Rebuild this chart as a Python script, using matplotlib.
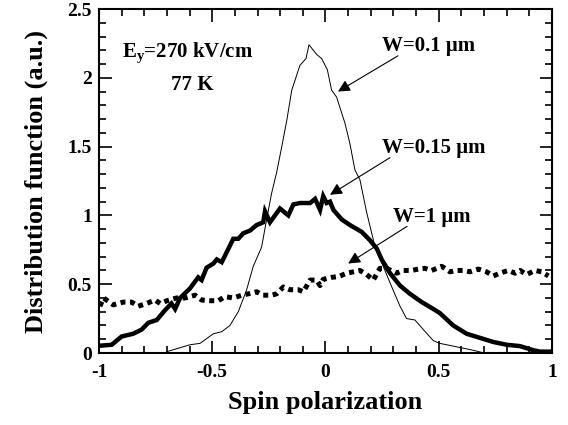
import matplotlib
matplotlib.use('Agg')
import matplotlib.pyplot as plt
from matplotlib.ticker import MultipleLocator

# W = 0.1 um (thin line)
x_thin = [-0.70, -0.598, -0.554, -0.495, -0.458, -0.422, -0.385, -0.348, -0.319, -0.282,
          -0.26, -0.238, -0.216, -0.193, -0.171, -0.149, -0.113, -0.086, -0.073, -0.039,
          -0.017, 0.008, 0.027, 0.049, 0.086, 0.108, 0.130, 0.152, 0.182, 0.219,
          0.255, 0.285, 0.329, 0.358, 0.395, 0.432, 0.476, 0.505, 0.564, 0.652, 0.70]
y_thin = [0.01, 0.06, 0.07, 0.14, 0.155, 0.20, 0.30, 0.46, 0.63, 0.77,
          0.97, 1.16, 1.31, 1.50, 1.69, 1.91, 2.09, 2.14, 2.24, 2.17,
          2.14, 2.06, 1.91, 1.86, 1.67, 1.52, 1.33, 1.26, 1.02, 0.77,
          0.63, 0.51, 0.34, 0.25, 0.24, 0.17, 0.09, 0.07, 0.05, 0.02, 0.0]

# W = 0.15 um (thick line)
x_thick = [-0.996, -0.944, -0.90, -0.849, -0.812, -0.782, -0.745, -0.709, -0.68, -0.664,
           -0.642, -0.598, -0.562, -0.547, -0.525, -0.495, -0.480, -0.458, -0.407, -0.385,
           -0.363, -0.333, -0.304, -0.275, -0.267, -0.245, -0.201, -0.164, -0.142, -0.113,
           -0.068, -0.046, -0.024, -0.010, 0.005, 0.020, 0.035, 0.072, 0.108, 0.16,
           0.196, 0.226, 0.248, 0.285, 0.329, 0.373, 0.425, 0.476, 0.505, 0.564,
           0.623, 0.682, 0.741, 0.80, 0.859, 0.918, 0.947, 0.99]
y_thick = [0.053, 0.06, 0.12, 0.14, 0.17, 0.22, 0.24, 0.31, 0.36, 0.32,
           0.40, 0.47, 0.55, 0.53, 0.62, 0.65, 0.68, 0.66, 0.83, 0.83,
           0.87, 0.89, 0.93, 0.95, 1.03, 0.95, 1.05, 1.00, 1.08, 1.09,
           1.09, 1.12, 1.04, 1.14, 1.09, 1.10, 1.04, 0.97, 0.93, 0.88,
           0.82, 0.76, 0.68, 0.58, 0.49, 0.43, 0.37, 0.32, 0.29, 0.20,
           0.14, 0.11, 0.08, 0.06, 0.05, 0.02, 0.01, 0.01]

# W = 1 um (dotted line)
x_dot = [-0.996, -0.98, -0.937, -0.893, -0.856, -0.827, -0.79, -0.753, -0.73, -0.70,
         -0.657, -0.62, -0.576, -0.547, -0.51, -0.473, -0.444, -0.407, -0.37, -0.341,
         -0.304, -0.275, -0.238, -0.216, -0.186, -0.157, -0.12, -0.098, -0.068, -0.039,
         -0.024, -0.01, 0.027, 0.057, 0.094, 0.123, 0.152, 0.182, 0.211, 0.24,
         0.27, 0.314, 0.343, 0.38, 0.41, 0.439, 0.469, 0.513, 0.55, 0.579,
         0.608, 0.638, 0.675, 0.711, 0.741, 0.77, 0.807, 0.837, 0.859, 0.888,
         0.925, 0.955, 0.984]
y_dot = [0.34, 0.40, 0.35, 0.37, 0.37, 0.34, 0.36, 0.385, 0.36, 0.38,
         0.40, 0.40, 0.42, 0.385, 0.38, 0.38, 0.41, 0.40, 0.42, 0.43,
         0.445, 0.42, 0.42, 0.43, 0.48, 0.46, 0.46, 0.445, 0.53, 0.53,
         0.49, 0.535, 0.55, 0.555, 0.58, 0.59, 0.60, 0.57, 0.53, 0.615,
         0.615, 0.58, 0.60, 0.60, 0.61, 0.615, 0.60, 0.63, 0.59, 0.60,
         0.60, 0.59, 0.61, 0.59, 0.56, 0.58, 0.60, 0.58, 0.60, 0.57,
         0.60, 0.59, 0.56]

plt.rcParams['font.family'] = ['Liberation Serif', 'DejaVu Serif']
plt.rcParams['font.weight'] = 'bold'
plt.rcParams['mathtext.fontset'] = 'custom'
plt.rcParams['mathtext.bf'] = 'Liberation Serif:bold'
plt.rcParams['mathtext.rm'] = 'Liberation Serif:bold'
plt.rcParams['mathtext.default'] = 'bf'

fig = plt.figure(figsize=(5.68, 4.25), dpi=100)
ax = fig.add_axes([0.1743, 0.1694, 0.7975, 0.8094])

ax.plot(x_thin, y_thin, color='black', lw=0.7)
ax.plot(x_thick, y_thick, color='black', lw=3.2, solid_joinstyle='miter')
ax.plot(x_dot, y_dot, color='black', lw=3.6, linestyle=(0, (1.0, 0.9)), dash_capstyle='butt')

ax.set_xlim(-1, 1)
ax.set_ylim(0, 2.5)
ax.xaxis.set_major_locator(MultipleLocator(0.5))
ax.xaxis.set_minor_locator(MultipleLocator(0.1))
ax.yaxis.set_major_locator(MultipleLocator(0.5))
ax.yaxis.set_minor_locator(MultipleLocator(0.1))
ax.xaxis.set_major_formatter(plt.FuncFormatter(lambda v, p: f'{v:g}'))
ax.yaxis.set_major_formatter(plt.FuncFormatter(lambda v, p: f'{v:g}'))
ax.tick_params(which='both', direction='in', top=True, right=True, width=1.2,
               labelsize=14)
ax.tick_params(which='major', length=9)
ax.tick_params(which='minor', length=5)
ax.tick_params(axis='x', pad=8)
ax.tick_params(axis='y', pad=5)
for s in ax.spines.values():
    s.set_linewidth(1.5)

ax.set_xlabel('Spin polarization', fontsize=19, fontweight='bold', labelpad=7)
ax.set_ylabel('Distribution function (a.u.)', fontsize=19, fontweight='bold', labelpad=14)

ax.text(-0.9, 2.18, r'E$_\mathbf{y}$=270 kV/cm', fontsize=15, fontweight='bold', va='center')
ax.text(-0.68, 1.95, '77 K', fontsize=15, fontweight='bold', va='center')

arrow = dict(arrowstyle='-|>', color='black', lw=0.8, mutation_scale=18, shrinkA=0, shrinkB=0)
ax.text(0.25, 2.23, 'W=0.1 μm', fontsize=15, fontweight='bold', va='center')
ax.annotate('', xy=(0.055, 1.90), xytext=(0.32, 2.16), arrowprops=arrow)
ax.text(0.25, 1.49, 'W=0.15 μm', fontsize=15, fontweight='bold', va='center')
ax.annotate('', xy=(0.02, 1.15), xytext=(0.285, 1.42), arrowprops=arrow)
ax.text(0.30, 0.99, 'W=1 μm', fontsize=15, fontweight='bold', va='center')
ax.annotate('', xy=(0.10, 0.65), xytext=(0.36, 0.92), arrowprops=arrow)

fig.savefig('out.png', dpi=100)
